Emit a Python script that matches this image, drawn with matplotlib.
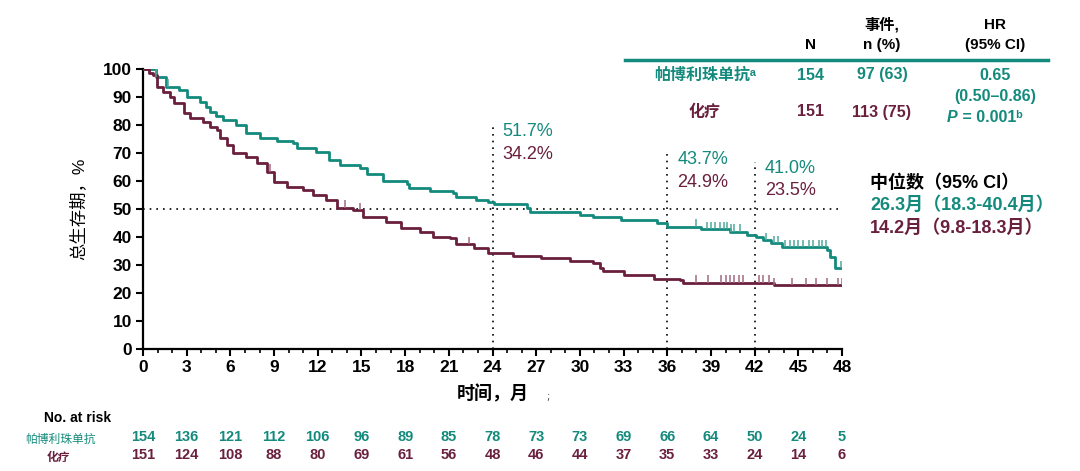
import numpy as np
import matplotlib.pyplot as plt
from matplotlib.lines import Line2D
from matplotlib.ticker import MultipleLocator
import matplotlib.transforms as mtransforms

# KM step data (time in months, OS %)
pembro_t = [0, 0.9, 1.6, 2.5, 3.0, 3.9, 4.3, 4.6, 5.0, 5.5, 6.4, 7.1, 8.0, 9.2, 10.3, 10.6,
            11.9, 12.8, 13.5, 14.9, 15.4, 16.5, 18.1, 18.3, 19.7, 21.3, 21.5, 22.9, 23.7, 24.1,
            26.4, 26.6, 30.0, 30.9, 32.8, 35.3, 36.0, 38.3, 40.3, 41.5, 42.1, 42.6, 43.1, 43.9,
            47.0, 47.2, 47.5]
pembro_v = [100, 97.3, 93.7, 92.5, 90.1, 88.3, 86.5, 84.8, 83.3, 81.8, 80.0, 77.0, 75.2, 74.3,
            73.5, 71.7, 70.5, 67.5, 65.7, 64.5, 62.4, 60.0, 58.8, 57.6, 56.4, 55.6, 54.4, 53.2,
            52.5, 51.7, 50.5, 49.0, 47.9, 47.0, 46.0, 44.9, 43.7, 42.7, 41.9, 40.7, 40.1, 38.9,
            37.7, 36.5, 35.4, 33.0, 28.8]
pembro_cens = [0.9, 1.7, 38.0, 38.7, 39.0, 39.3, 39.6, 39.9, 40.1, 40.4, 40.6, 41.0, 42.8, 43.3,
               43.6, 44.1, 44.4, 44.7, 45.0, 45.3, 45.7, 46.0, 46.4, 46.6, 46.9, 47.9]

chemo_t = [0, 0.4, 0.7, 0.94, 1.4, 1.85, 2.1, 2.8, 3.2, 4.1, 4.6, 5.1, 5.3, 5.75, 6.2, 7.1, 7.8,
           8.5, 9.0, 9.9, 11.0, 11.7, 12.6, 13.3, 14.4, 15.1, 16.7, 17.7, 19.0, 19.9, 21.1, 21.5,
           22.7, 23.7, 25.4, 27.3, 29.3, 30.9, 31.4, 31.6, 33.0, 35.1, 36.9, 37.1, 43.3]
chemo_v = [100, 98.7, 97.9, 93.7, 91.9, 90.1, 87.7, 84.2, 82.4, 81.2, 79.4, 78.2, 75.2, 72.9,
           69.9, 68.7, 66.3, 63.3, 59.8, 58.0, 56.8, 55.0, 53.2, 50.5, 49.6, 47.3, 45.5, 43.1,
           41.9, 40.1, 39.5, 37.4, 36.2, 34.2, 33.2, 32.4, 31.5, 30.6, 28.8, 27.9, 26.4, 25.0,
           24.6, 23.7, 22.9]
chemo_cens = [0.3, 8.7, 13.9, 14.9, 22.4, 38.0, 38.8, 39.7, 40.0, 40.3, 40.6, 40.9, 41.2, 42.3,
              42.6, 43.0, 43.3, 44.6, 45.5, 46.2, 47.0, 47.7, 48.0]

landmarks = [24, 36, 42]
landmark_tops = [80, 70, 66.8]
pembro_lm = ['51.7%', '43.7%', '41.0%']
chemo_lm = ['34.2%', '24.9%', '23.5%']

risk_times = list(range(0, 49, 3))
pembro_risk = [154, 136, 121, 112, 106, 96, 89, 85, 78, 73, 73, 69, 66, 64, 50, 24, 5]
chemo_risk = [151, 124, 108, 88, 80, 69, 61, 56, 48, 46, 44, 37, 35, 33, 24, 14, 6]

TEAL = '#138a7c'
MAROON = '#6a1f3d'
TEAL_C = '#4fa89c'
MAROON_C = '#a36a82'

LAT = ['Liberation Sans', 'DejaVu Sans', 'Noto Sans CJK SC']
NARROW = ['Liberation Sans Narrow', 'Liberation Sans', 'DejaVu Sans']
CJK = ['Liberation Sans', 'Noto Sans CJK SC', 'DejaVu Sans']

W, H = 1080, 471
fig = plt.figure(figsize=(W / 100, H / 100), dpi=100)
ax = fig.add_axes([143 / W, 1 - 349 / H, (842 - 143) / W, (349 - 69) / H])


def P(x, y):
    return x / W, 1 - y / H


def km(t, v):
    t = list(t) + [48]
    v = list(v) + [v[-1]]
    return t, v


def step_at(t, v, c):
    idx = np.searchsorted(t, c, side='right') - 1
    return np.array(v)[idx]


for t, v, cens, col, ccol in [(pembro_t, pembro_v, pembro_cens, TEAL, TEAL_C),
                              (chemo_t, chemo_v, chemo_cens, MAROON, MAROON_C)]:
    tt, vv = km(t, v)
    ax.plot(tt, vv, drawstyle='steps-post', color=col, lw=2.0, zorder=3)
    cy = step_at(t, v, cens)
    ax.vlines(cens, cy, cy + 2.6, color=ccol, lw=1.1, zorder=4)

# reference lines
ax.plot([0, 48], [50, 50], color='black', ls=(0, (1, 3)), lw=1.2, zorder=2)
for lm, top in zip(landmarks, landmark_tops):
    ax.plot([lm, lm], [0, top], color='black', ls=(0, (1, 3)), lw=1.2, zorder=2)

lm_y_top = [77.5, 67.5, 64.5]
for lm, a, b, yt in zip(landmarks, pembro_lm, chemo_lm, lm_y_top):
    ax.text(lm + 0.7, yt, a, color=TEAL, fontsize=13, family=LAT, va='center', ha='left')
    ax.text(lm + 0.7, yt - 8, b, color=MAROON, fontsize=13, family=LAT, va='center', ha='left')

ax.set_xlim(0, 48)
ax.set_ylim(0, 100)
ax.xaxis.set_major_locator(MultipleLocator(3))
ax.xaxis.set_minor_locator(MultipleLocator(1))
ax.yaxis.set_major_locator(MultipleLocator(10))
for s in ['top', 'right']:
    ax.spines[s].set_visible(False)
for s in ['left', 'bottom']:
    ax.spines[s].set_linewidth(1.6)
ax.tick_params(axis='both', which='major', width=1.5, length=5, pad=3)
ax.tick_params(axis='x', which='minor', width=1.2, length=3)
for lab in ax.get_xticklabels() + ax.get_yticklabels():
    lab.set_family(NARROW)
    lab.set_fontweight('bold')
    lab.set_fontsize(12.5)

ax.set_ylabel('总生存期，%', family=CJK, fontsize=12.5, labelpad=12)
ax.set_xlabel('时间，月', family=CJK, fontsize=13, fontweight='bold', labelpad=7)
fig.text(*P(548, 397), ';', fontsize=7, color='#444444', ha='center', va='center')

# table top right
fig.add_artist(Line2D([625 / W, 1048 / W], [1 - 60 / H, 1 - 60 / H], color=TEAL, lw=2.5))
hdr = dict(fontsize=11, fontweight='bold', ha='center', va='center', family=CJK)
fig.text(*P(811, 45), 'N', **hdr)
fig.text(*P(882, 25), '事件,', **hdr)
fig.text(*P(882, 45), 'n (%)', **hdr)
fig.text(*P(995, 25), 'HR', **hdr)
fig.text(*P(995, 45), '(95% CI)', **hdr)

row = dict(fontsize=11.5, fontweight='bold', ha='center', va='center', family=CJK)
fig.text(*P(705, 75), '帕博利珠单抗ᵃ', color=TEAL, **row)
fig.text(*P(811, 75), '154', color=TEAL, **row)
fig.text(*P(882, 75), '97 (63)', color=TEAL, **row)
fig.text(*P(995, 75), '0.65', color=TEAL, **row)
fig.text(*P(995, 97), '(0.50–0.86)', color=TEAL, **row)
fig.text(*P(705, 112), '化疗', color=MAROON, **row)
fig.text(*P(811, 112), '151', color=MAROON, **row)
fig.text(*P(882, 112), '113 (75)', color=MAROON, **row)
fig.text(*P(947, 117), 'P', color=TEAL, fontsize=11.5, fontweight='bold', style='italic',
         ha='left', va='center', family=LAT)
fig.text(*P(958, 117), ' = 0.001ᵇ', color=TEAL, fontsize=11.5, fontweight='bold',
         ha='left', va='center', family=LAT)

# median box
med = dict(fontsize=13, fontweight='bold', ha='left', va='center', family=CJK)
fig.text(*P(870, 183), '中位数（95% CI）', color='black', **med)
fig.text(*P(870, 205), '26.3月（18.3-40.4月）', color=TEAL, **med)
fig.text(*P(870, 228), '14.2月（9.8-18.3月）', color=MAROON, **med)

# number at risk
fig.text(*P(78, 418), 'No. at risk', fontsize=10, fontweight='bold', ha='center', va='center',
         family=NARROW)
fig.text(*P(60, 440), '帕博利珠单抗', color=TEAL, fontsize=8.5, ha='center', va='center',
         family=CJK)
fig.text(*P(58, 458), '化疗', color=MAROON, fontsize=8.5, fontweight='bold', ha='center',
         va='center', family=CJK)
trans = mtransforms.blended_transform_factory(ax.transData, fig.transFigure)
for t, a, b in zip(risk_times, pembro_risk, chemo_risk):
    ax.text(t, 1 - 437 / H, str(a), transform=trans, color=TEAL, fontsize=10.5,
            fontweight='bold', ha='center', va='center', family=NARROW, clip_on=False)
    ax.text(t, 1 - 455 / H, str(b), transform=trans, color=MAROON, fontsize=10.5,
            fontweight='bold', ha='center', va='center', family=NARROW, clip_on=False)

fig.savefig('out.png', dpi=100)
